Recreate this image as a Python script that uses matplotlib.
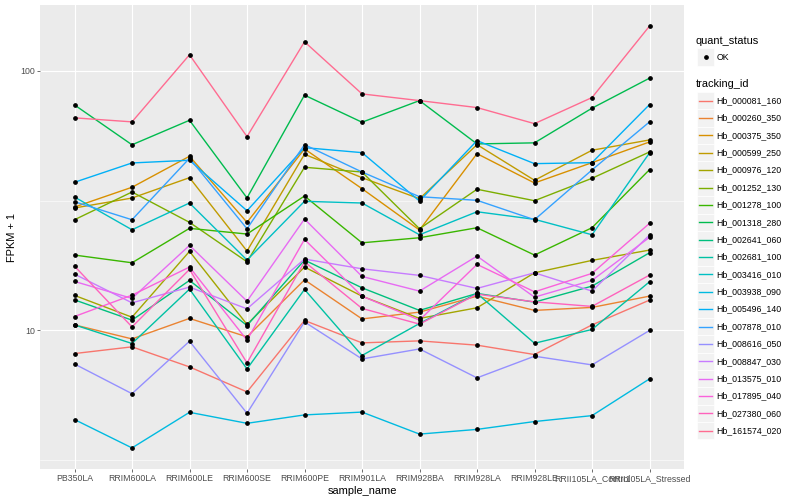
import numpy as np
import matplotlib
matplotlib.use("Agg")
import matplotlib.pyplot as plt
from matplotlib.ticker import FixedLocator, FixedFormatter, NullFormatter
from matplotlib.patches import Rectangle
from matplotlib.lines import Line2D

plt.rcParams['font.family'] = ['Liberation Sans', 'DejaVu Sans']

samples = ["PB350LA", "RRIM600LA", "RRIM600LE", "RRIM600SE", "RRIM600PE", "RRIM901LA",
           "RRIM928BA", "RRIM928LA", "RRIM928LE", "RRII105LA_Control", "RRII105LA_Stressed"]

tracking_ids = ["Hb_000081_160", "Hb_000260_350", "Hb_000375_350", "Hb_000599_250",
                "Hb_000976_120", "Hb_001252_130", "Hb_001278_100", "Hb_001318_280",
                "Hb_002641_060", "Hb_002681_100", "Hb_003416_010", "Hb_003938_090",
                "Hb_005496_140", "Hb_007878_010", "Hb_008616_050", "Hb_008847_030",
                "Hb_013575_010", "Hb_017895_040", "Hb_027380_060", "Hb_161574_020"]

# FPKM + 1 per gene, one value per sample
hb_000081_160 = [8.15, 8.65, 7.24, 5.80, 10.93, 8.96, 9.12, 8.78, 8.08, 10.51, 13.09]
hb_000260_350 = [10.51, 9.28, 11.13, 9.45, 15.67, 11.08, 11.77, 13.56, 11.95, 12.27, 13.56]
hb_000375_350 = [29.89, 35.61, 46.88, 26.09, 50.03, 35.17, 24.37, 47.98, 36.99, 44.30, 53.22]
hb_000599_250 = [29.63, 32.37, 38.77, 20.23, 47.72, 38.77, 32.17, 51.96, 37.88, 49.45, 54.18]
hb_000976_120 = [13.65, 11.25, 20.17, 10.55, 17.55, 13.56, 11.13, 12.23, 16.68, 18.62, 20.40]
hb_001252_130 = [26.70, 34.15, 26.09, 18.39, 42.52, 40.77, 24.65, 34.99, 31.61, 38.56, 48.70]
hb_001278_100 = [19.52, 18.23, 24.74, 23.52, 32.95, 21.76, 22.76, 24.87, 19.52, 24.87, 41.63]
hb_001318_280 = [73.9, 51.9, 64.5, 32.4, 80.6, 63.4, 76.8, 52.3, 52.8, 71.8, 93.7]
hb_002641_060 = [13.12, 10.96, 15.59, 10.45, 18.67, 14.60, 11.95, 13.89, 12.86, 14.82, 19.92]
hb_002681_100 = [10.51, 8.91, 14.43, 7.11, 14.39, 8.01, 10.64, 13.89, 8.93, 10.09, 15.40]
hb_003416_010 = [32.66, 24.43, 30.97, 18.67, 31.44, 30.97, 23.37, 28.66, 26.80, 23.37, 48.28]
hb_003938_090 = [4.54, 3.53, 4.84, 4.39, 4.73, 4.85, 3.99, 4.16, 4.46, 4.70, 6.51]
hb_005496_140 = [37.22, 44.18, 45.25, 28.92, 50.61, 48.41, 31.52, 53.85, 43.91, 44.30, 74.13]
hb_007878_010 = [31.33, 26.70, 46.06, 24.65, 51.96, 40.77, 32.75, 31.72, 26.70, 41.52, 63.58]
hb_008616_050 = [7.43, 5.71, 9.09, 4.80, 10.79, 7.77, 8.49, 6.57, 7.96, 7.37, 10.0]
hb_008847_030 = [16.49, 12.78, 14.69, 12.12, 18.84, 17.28, 16.30, 14.52, 16.68, 14.18, 23.31]
hb_013575_010 = [15.45, 13.29, 21.27, 12.97, 26.87, 16.15, 14.18, 19.34, 13.44, 15.59, 22.84]
hb_017895_040 = [11.32, 13.68, 17.55, 9.18, 22.43, 13.56, 10.96, 17.97, 14.09, 16.59, 25.86]
hb_027380_060 = [17.70, 10.32, 17.19, 7.50, 18.39, 12.16, 10.58, 13.80, 12.89, 12.38, 16.34]
hb_161574_020 = [65.9, 63.6, 115.3, 55.8, 129.4, 81.5, 76.8, 72.2, 62.6, 78.9, 148.7]

series = [hb_000081_160, hb_000260_350, hb_000375_350, hb_000599_250, hb_000976_120,
          hb_001252_130, hb_001278_100, hb_001318_280, hb_002641_060, hb_002681_100,
          hb_003416_010, hb_003938_090, hb_005496_140, hb_007878_010, hb_008616_050,
          hb_008847_030, hb_013575_010, hb_017895_040, hb_027380_060, hb_161574_020]

# ggplot default hue palette, 20 levels
colors = ["#F8766D", "#EA8331", "#D89000", "#C09B00", "#A3A500", "#7CAE00", "#39B600",
          "#00BB4E", "#00BF7D", "#00C1A3", "#00BFC4", "#00BAE0", "#00B0F6", "#35A2FF",
          "#9590FF", "#C77CFF", "#E76BF3", "#FA62DB", "#FF62BC", "#FF6C91"]

W, H = 800, 500
fig = plt.figure(figsize=(8, 5), dpi=100)
ax = fig.add_axes([40 / W, 31 / H, 644 / W, 464 / H])
ax.set_facecolor("#EBEBEB")
for s in ax.spines.values():
    s.set_visible(False)

x = np.arange(len(samples))
for vals, col in zip(series, colors):
    ax.plot(x, vals, color=col, lw=1.0, zorder=3)
for vals in series:
    ax.plot(x, vals, ls="none", marker="o", ms=2.4, color="black", zorder=4)

ax.set_yscale("log")
allv = np.log10(np.concatenate([np.array(v) for v in series]))
lo, hi = allv.min(), allv.max()
pad = (hi - lo) * 0.05
ax.set_ylim(10 ** (lo - pad), 10 ** (hi + pad))
ax.set_xlim(-0.6, len(samples) - 0.4)

ax.yaxis.set_major_locator(FixedLocator([10, 100]))
ax.yaxis.set_major_formatter(FixedFormatter(["10", "100"]))
ax.yaxis.set_minor_locator(FixedLocator([10 ** 0.5, 10 ** 1.5, 10 ** 2.5]))
ax.yaxis.set_minor_formatter(NullFormatter())
ax.set_xticks(x)
ax.set_xticklabels(samples)

ax.grid(which="major", color="white", lw=0.8, zorder=1)
ax.grid(which="minor", axis="y", color="white", lw=0.4, zorder=1)
ax.set_axisbelow(True)
ax.tick_params(which="major", length=2.2, width=0.5, color="#333333",
               labelsize=6.3, labelcolor="#4D4D4D", pad=1.5)
ax.tick_params(which="minor", length=0)

ax.set_xlabel("sample_name", fontsize=7.9, labelpad=2)
ax.set_ylabel("FPKM + 1", fontsize=7.9, labelpad=2)

# legends, drawn in pixel positions
def fx(px):
    return px / W

def fy(py):
    return 1 - py / H

fig.text(fx(696), fy(40.7), "quant_status", fontsize=7.9, va="center", ha="left")
fig.patches.append(Rectangle((fx(697), fy(65.5)), 17 / W, 17 / H, transform=fig.transFigure,
                             facecolor="#F2F2F2", edgecolor="white", lw=0.5))
fig.lines.append(Line2D([fx(705.5)], [fy(57.3)], marker="o", ms=2.4, color="black",
                        transform=fig.transFigure))
fig.text(fx(716.7), fy(57.3), "OK", fontsize=6.3, va="center", ha="left")

fig.text(fx(696), fy(84.3), "tracking_id", fontsize=7.9, va="center", ha="left")
step = 17.37
for i, (tid, col) in enumerate(zip(tracking_ids, colors)):
    yc = 100.7 + i * step
    fig.patches.append(Rectangle((fx(697), fy(yc + step / 2)), 17 / W, step / H,
                                 transform=fig.transFigure, facecolor="#F2F2F2",
                                 edgecolor="white", lw=0.5))
    fig.lines.append(Line2D([fx(698.5), fx(712)], [fy(yc), fy(yc)], color=col, lw=1.0,
                            transform=fig.transFigure))
    fig.text(fx(716.7), fy(yc), tid, fontsize=6.3, va="center", ha="left")

fig.savefig("out.png", dpi=100)
